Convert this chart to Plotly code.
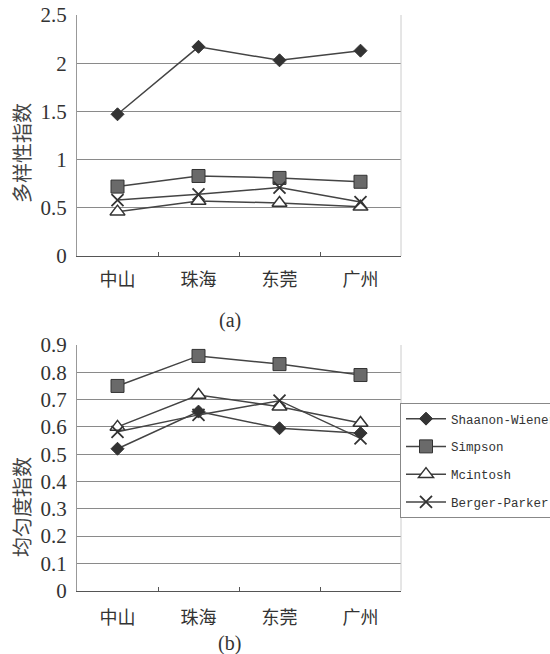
import plotly.graph_objects as go

categories = ["中山", "珠海", "东莞", "广州"]
series_names = ["Shaanon-Wiener", "Simpson", "Mcintosh", "Berger-Parker"]

# (a) diversity indices
div_shannon = [1.47, 2.17, 2.03, 2.13]
div_simpson = [0.72, 0.83, 0.81, 0.77]
div_mcintosh = [0.46, 0.57, 0.55, 0.51]
div_berger = [0.58, 0.64, 0.71, 0.56]

# (b) evenness indices
even_shannon = [0.52, 0.656, 0.595, 0.577]
even_simpson = [0.75, 0.86, 0.83, 0.79]
even_mcintosh = [0.60, 0.717, 0.674, 0.614]
even_berger = [0.582, 0.644, 0.696, 0.558]

y_ticks_a = [0, 0.5, 1, 1.5, 2, 2.5]
y_ticklabels_a = ["0", "0.5", "1", "1.5", "2", "2.5"]
y_ticks_b = [0, 0.1, 0.2, 0.3, 0.4, 0.5, 0.6, 0.7, 0.8, 0.9]
y_ticklabels_b = ["0", "0.1", "0.2", "0.3", "0.4", "0.5", "0.6", "0.7", "0.8", "0.9"]

LINE = "#444444"
styles = [
    dict(symbol="diamond", size=10, color="#333333", line=dict(color="#333333", width=1)),
    dict(symbol="square", size=13, color="#6a6a6a", line=dict(color="#333333", width=1)),
    dict(symbol="triangle-up", size=13, color="white", line=dict(color="#333333", width=1.5)),
    dict(symbol="x-thin", size=12, color="#333333", line=dict(color="#333333", width=1.8)),
]

fig = go.Figure()
data_a = [div_shannon, div_simpson, div_mcintosh, div_berger]
data_b = [even_shannon, even_simpson, even_mcintosh, even_berger]

for name, vals, st in zip(series_names, data_a, styles):
    fig.add_trace(go.Scatter(x=categories, y=vals, mode="lines+markers", name=name,
                             line=dict(color=LINE, width=1.5), marker=st,
                             showlegend=False, xaxis="x", yaxis="y"))
for name, vals, st in zip(series_names, data_b, styles):
    fig.add_trace(go.Scatter(x=categories, y=vals, mode="lines+markers", name=name,
                             legendgroup=name,
                             line=dict(color=LINE, width=1.5), marker=st,
                             showlegend=True, xaxis="x2", yaxis="y2"))

W, H = 550, 654
def px_x(p): return p / W
def px_y(p): return 1 - p / H

xdom = [px_x(77), px_x(401)]
num_font = dict(family="Liberation Serif, serif", size=21, color="#333333")
cat_font = dict(family="Noto Sans CJK SC", size=18, color="#333333")

xaxis_common = dict(type="category", domain=xdom, range=[-0.5, 3.5],
                    showline=True, linecolor="#555555", linewidth=1.2,
                    ticks="inside", ticklen=4, tickcolor="#555555", tickson="boundaries",
                    showgrid=False, tickfont=cat_font, mirror=False, zeroline=False)

yaxis_common = dict(showgrid=True, gridcolor="#8a8a8a", gridwidth=1,
                    showline=True, linecolor="#999999", linewidth=1, ticks="",
                    tickfont=num_font, zeroline=False, ticklabelstandoff=5)

def label(text, x, y, font):
    return dict(text=text, x=px_x(x), y=px_y(y), xref="paper", yref="paper",
                xanchor="center", yanchor="middle", showarrow=False, font=font)

serif_lbl = dict(family="Liberation Serif, serif", size=20, color="#333333")
cjk_title = dict(family="Noto Sans CJK SC", size=20, color="#444444")

ann_a = label("(a)", 230, 320, serif_lbl)
ann_b = label("(b)", 230, 643, serif_lbl)
ann_ya = label("多样性指数", 21, 153, cjk_title)
ann_ya["textangle"] = -90
ann_yb = label("均匀度指数", 21, 507, cjk_title)
ann_yb["textangle"] = -90

fig.update_layout(
    width=W, height=H,
    margin=dict(l=0, r=0, t=0, b=0, autoexpand=False),
    paper_bgcolor="white", plot_bgcolor="white",
    showlegend=True,
    xaxis=dict(xaxis_common, anchor="y", ticklabelstandoff=7),
    xaxis2=dict(xaxis_common, anchor="y2", ticklabelstandoff=11),
    yaxis=dict(yaxis_common, domain=[px_y(256), px_y(15)], range=[0, 2.5],
               tickvals=y_ticks_a, ticktext=y_ticklabels_a, anchor="x"),
    yaxis2=dict(yaxis_common, domain=[px_y(590.7), px_y(345)], range=[0, 0.9],
                tickvals=y_ticks_b, ticktext=y_ticklabels_b, anchor="x2"),
    legend=dict(x=px_x(400), y=px_y(403), xanchor="left", yanchor="top",
                bordercolor="#888888", borderwidth=1, bgcolor="white",
                font=dict(family="Liberation Mono, monospace", size=12.5, color="#333333"),
                itemwidth=40, tracegroupgap=8.5),
    annotations=[ann_a, ann_b, ann_ya, ann_yb],
    shapes=[
        dict(type="line", xref="paper", yref="paper", x0=xdom[1], x1=xdom[1],
             y0=px_y(256), y1=px_y(15), line=dict(color="#cccccc", width=1)),
        dict(type="line", xref="paper", yref="paper", x0=xdom[1], x1=xdom[1],
             y0=px_y(590.7), y1=px_y(345), line=dict(color="#cccccc", width=1)),
    ],
)

fig.write_html("out.html", config={"displayModeBar": False},
               post_script="document.body.style.margin='0';document.body.style.overflow='hidden';")
